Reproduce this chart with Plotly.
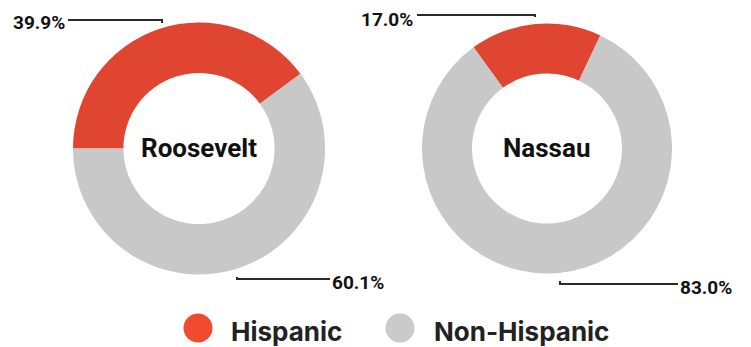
import plotly.graph_objects as go

# data
groups = ["Hispanic", "Non-Hispanic"]
places = ["Roosevelt", "Nassau"]
roosevelt_pct = [39.9, 60.1]
nassau_pct = [17.0, 83.0]
colors = ["#DF4530", "#C8C8C8"]
legend_colors = ["#F04B2E", "#CACACA"]

# page has an 8px body margin, so the figure is drawn a bit smaller
OFF = 8
W, H = 751 - OFF, 347 - OFF


def px(x):
    return (x - OFF) / W


def py(y):
    return 1 - (y - OFF) / H


fig = go.Figure()

# Roosevelt donut
fig.add_trace(go.Pie(
    labels=groups, values=roosevelt_pct, hole=0.6, sort=False,
    direction="clockwise", rotation=270,
    marker=dict(colors=colors, line=dict(width=0)),
    textinfo="none", hoverinfo="label+percent",
    domain=dict(x=[px(73), px(325)], y=[py(275), py(22)]),
    showlegend=False,
))

# Nassau donut
fig.add_trace(go.Pie(
    labels=groups, values=nassau_pct, hole=0.6, sort=False,
    direction="clockwise", rotation=-36,
    marker=dict(colors=colors, line=dict(width=0)),
    textinfo="none", hoverinfo="label+percent",
    domain=dict(x=[px(422), px(672)], y=[py(275), py(22)]),
    showlegend=False,
))

pct_font = dict(family="Roboto, sans-serif", size=19, color="#111111")
line_style = dict(color="#2a2a2a", width=2)

annotations = []
shapes = []

# center names
for name, cx, cy in [(places[0], 199, 148), (places[1], 546, 148)]:
    annotations.append(dict(
        x=px(cx), y=py(cy), xref="paper", yref="paper", text=f"<b>{name}</b>",
        showarrow=False, xanchor="center", yanchor="middle",
        font=dict(family="Roboto, sans-serif", size=26, color="#111111"),
    ))

# percentage labels with leader lines
labels = [
    (f"{roosevelt_pct[0]:.1f}%", 67, 23, "right", [(68, 20), (162, 20), (162, 23)]),
    (f"{roosevelt_pct[1]:.1f}%", 330, 282, "left", [(237, 277), (237, 279), (330, 279)]),
    (f"{nassau_pct[0]:.1f}%", 415, 19, "right", [(417, 15), (535, 15), (535, 17)]),
    (f"{nassau_pct[1]:.1f}%", 678, 287, "left", [(560, 281), (560, 284), (678, 284)]),
]
for text, tx, ty, anchor, pts in labels:
    annotations.append(dict(
        x=px(tx), y=py(ty), xref="paper", yref="paper", text=f"<b>{text}</b>",
        showarrow=False, xanchor=anchor, yanchor="middle", font=pct_font,
    ))
    path = "M " + " L ".join(f"{px(x)},{py(y)}" for x, y in pts)
    shapes.append(dict(type="path", xref="paper", yref="paper", path=path, line=line_style))

# legend
for grp, col, cx, tx in [(groups[0], legend_colors[0], 198, 229), (groups[1], legend_colors[1], 400, 432)]:
    shapes.append(dict(
        type="circle", xref="paper", yref="paper", xsizemode="pixel", ysizemode="pixel",
        xanchor=px(cx), yanchor=py(328), x0=-14.5, x1=14.5, y0=-14.5, y1=14.5,
        fillcolor=col, line=dict(width=0),
    ))
    annotations.append(dict(
        x=px(tx), y=py(331), xref="paper", yref="paper", text=f"<b>{grp}</b>",
        showarrow=False, xanchor="left", yanchor="middle",
        font=dict(family="Inter, Roboto, sans-serif", size=26, color="#222222"),
    ))

fig.update_layout(
    width=W, height=H,
    margin=dict(l=0, r=0, t=0, b=0),
    paper_bgcolor="white", plot_bgcolor="white",
    annotations=annotations, shapes=shapes,
)

fig.write_html("out.html")
